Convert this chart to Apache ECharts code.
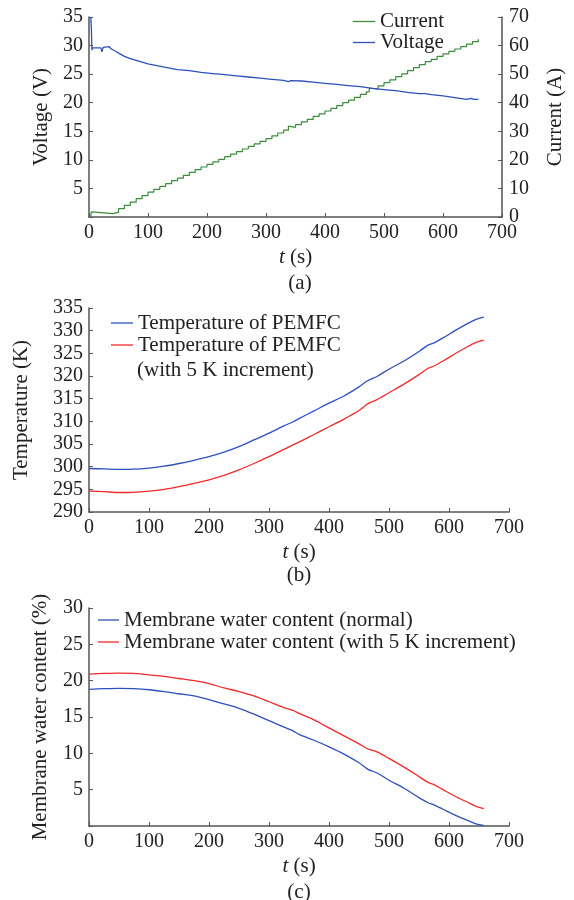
<!DOCTYPE html>
<html>
<head>
<meta charset="utf-8">
<script src="https://cdn.jsdelivr.net/npm/echarts@6/dist/echarts.min.js"></script>
<style>
    html, body { margin: 0; padding: 0; background: #fff; }
    #chart { width: 574px; height: 900px; }
</style>
</head>
<body>
<div id="chart"></div>
<script>
    // (a) voltage / current vs time
    var voltT = [3, 4, 5, 6, 20, 22, 24, 34, 38, 45, 52, 60, 70, 80, 90, 100, 115, 130, 150, 170, 190, 210, 230, 250, 270, 290, 310, 330, 338, 342, 360, 380, 400, 420, 440, 460, 480, 500, 520, 540, 560, 570, 580, 600, 620, 640, 648, 652, 660];
    var voltage = [35, 33, 29.2, 29.6, 29.6, 28.9, 29.7, 29.8, 29.4, 29.0, 28.6, 28.1, 27.7, 27.4, 27.1, 26.8, 26.5, 26.2, 25.8, 25.6, 25.3, 25.1, 24.9, 24.7, 24.5, 24.3, 24.1, 23.9, 23.7, 23.85, 23.8, 23.6, 23.4, 23.2, 23.0, 22.8, 22.5, 22.3, 22.1, 21.8, 21.6, 21.6, 21.4, 21.2, 20.9, 20.6, 20.75, 20.6, 20.6];
    var currT = [3, 4, 6, 35, 40, 50, 60, 70, 80, 90, 100, 110, 120, 130, 140, 150, 160, 170, 180, 190, 200, 210, 220, 230, 240, 250, 260, 270, 280, 290, 300, 310, 320, 330, 338, 340, 350, 360, 370, 380, 390, 400, 410, 420, 430, 440, 450, 460, 470, 475, 480, 490, 500, 510, 520, 530, 540, 550, 560, 570, 580, 590, 600, 610, 620, 630, 640, 650, 660];
    var current = [0.3, 1.8, 1.3, 1.2, 1.6, 2.9, 4.1, 5.2, 6.4, 7.5, 8.7, 9.7, 10.7, 11.7, 12.7, 13.6, 14.6, 15.6, 16.6, 17.5, 18.4, 19.3, 20.2, 21.1, 22.0, 22.9, 23.8, 24.7, 25.6, 26.5, 27.4, 28.4, 29.4, 30.4, 31.8, 31.4, 32.3, 33.3, 34.2, 35.2, 36.1, 37.1, 38.0, 39.0, 40.0, 40.9, 41.9, 42.9, 43.8, 45.0, 44.8, 45.9, 47.0, 48.0, 49.1, 50.1, 51.2, 52.3, 53.3, 54.4, 55.2, 56.2, 57.1, 58.0, 58.8, 59.6, 60.5, 61.4, 62.2];

    // (b) and (c) share the same time samples
    var simT = [0, 25, 50, 75, 100, 125, 150, 175, 200, 225, 250, 275, 300, 325, 340, 350, 375, 400, 425, 450, 465, 480, 500, 525, 550, 565, 575, 590, 610, 630, 645, 658];
    var tempNormal = [299.6, 299.5, 299.4, 299.45, 299.7, 300.1, 300.7, 301.4, 302.2, 303.2, 304.4, 305.9, 307.4, 309.0, 309.9, 310.6, 312.3, 314.0, 315.6, 317.6, 319.0, 319.9, 321.5, 323.3, 325.4, 326.8, 327.3, 328.4, 330.0, 331.5, 332.5, 333.0];
    var tempPlus5 = [294.6, 294.5, 294.3, 294.35, 294.6, 295.0, 295.6, 296.3, 297.1, 298.1, 299.3, 300.7, 302.2, 303.8, 304.8, 305.4, 307.1, 308.8, 310.5, 312.4, 313.9, 314.8, 316.3, 318.2, 320.3, 321.7, 322.2, 323.3, 324.9, 326.4, 327.4, 327.9];
    var waterNormal = [18.8, 18.9, 18.95, 18.9, 18.75, 18.5, 18.2, 17.9, 17.4, 16.8, 16.2, 15.4, 14.5, 13.6, 13.1, 12.6, 11.8, 10.9, 9.9, 8.7, 7.8, 7.3, 6.3, 5.2, 3.9, 3.2, 2.9, 2.3, 1.5, 0.8, 0.3, 0.1];
    var waterPlus5 = [20.9, 21.0, 21.05, 21.0, 20.8, 20.6, 20.3, 20.0, 19.6, 19.0, 18.5, 17.9, 17.1, 16.3, 15.9, 15.5, 14.6, 13.5, 12.4, 11.3, 10.6, 10.2, 9.3, 8.1, 6.8, 6.0, 5.7, 5.0, 4.1, 3.3, 2.7, 2.4];

    var xTicks = [0, 100, 200, 300, 400, 500, 600, 700];

    function pairs(xs, ys) {
        return xs.map(function (x, i) { return [x, ys[i]]; });
    }

    var FONT = 'Liberation Serif';
    var BLUE = '#2d50bd';
    var GREEN = '#3c8c3c';
    var RED = '#f02a2a';
    var AXIS = '#555';

    function xAxis(grid) {
        return {
            type: 'value', gridIndex: grid, min: 0, max: 700, interval: 100,
            name: '{it|t} (s)', nameLocation: 'middle', nameGap: 30,
            nameTextStyle: { fontFamily: FONT, fontSize: 21, color: '#222', rich: { it: { fontFamily: FONT, fontSize: 21, fontStyle: 'italic', color: '#222' } } },
            axisLine: { lineStyle: { color: AXIS, width: 1.5 } },
            axisTick: { inside: true, length: 4, lineStyle: { color: AXIS } },
            axisLabel: { margin: 6, fontFamily: FONT, fontSize: 20, color: '#222',
                formatter: function (v) { return xTicks.indexOf(v) >= 0 ? String(v) : ''; } },
            splitLine: { show: false }
        };
    }

    function yAxis(grid, opts) {
        var a = {
            type: 'value', gridIndex: grid,
            nameLocation: 'middle',
            nameTextStyle: { fontFamily: FONT, fontSize: 21, color: '#222' },
            axisLine: { show: true, lineStyle: { color: AXIS, width: 1.5 } },
            axisTick: { show: true, inside: true, length: 4, lineStyle: { color: AXIS } },
            axisLabel: { margin: 6, fontFamily: FONT, fontSize: 20, color: '#222' },
            splitLine: { show: false }
        };
        for (var k in opts) a[k] = opts[k];
        return a;
    }

    function hideZero(v) { return v === 0 ? '' : String(v); }

    // plain line sample in the legends
    var legendBase = { orient: 'vertical', padding: 0, itemGap: 0, icon: 'rect', itemWidth: 22, itemHeight: 1.3 };
    function legend(opts) {
        var l = {};
        for (var k in legendBase) l[k] = legendBase[k];
        for (var j in opts) l[j] = opts[j];
        return l;
    }

    var chart = echarts.init(document.getElementById('chart'));
    var option = {
        backgroundColor: '#fff',
        animation: false,
        title: [
            { text: '(a)', left: 300, top: 273, textAlign: 'center', padding: 0, textStyle: { fontFamily: FONT, fontSize: 21, fontWeight: 'normal', color: '#222' } },
            { text: '(b)', left: 299, top: 565, textAlign: 'center', padding: 0, textStyle: { fontFamily: FONT, fontSize: 21, fontWeight: 'normal', color: '#222' } },
            { text: '(c)', left: 299, top: 882, textAlign: 'center', padding: 0, textStyle: { fontFamily: FONT, fontSize: 21, fontWeight: 'normal', color: '#222' } }
        ],
        grid: [
            { left: 89, right: 63, top: 17, height: 200 },
            { left: 89, right: 65, top: 308, height: 204 },
            { left: 89, right: 65, top: 608, height: 218 }
        ],
        legend: [
            legend({ data: ['Current', 'Voltage'], left: 353, top: 11,
              textStyle: { fontFamily: FONT, fontSize: 21, color: '#222', lineHeight: 21 } }),
            legend({ data: ['Temperature of PEMFC', 'Temperature of PEMFC (with 5 K increment)'], left: 111, top: 312,
              formatter: function (n) { return 'Temperature of PEMFC'; },
              textStyle: { fontFamily: FONT, fontSize: 21, color: '#222', lineHeight: 22 } }),
            legend({ data: ['Membrane water content (normal)', 'Membrane water content (with 5 K increment)'], left: 98, top: 609, itemWidth: 21,
              textStyle: { fontFamily: FONT, fontSize: 21, color: '#222', lineHeight: 22 } })
        ],
        graphic: [
            { type: 'text', left: 137, top: 360, style: { text: '(with 5 K increment)', fontFamily: FONT, fontSize: 21, fill: '#222' } }
        ],
        xAxis: [xAxis(0), xAxis(1), xAxis(2)],
        yAxis: [
            yAxis(0, { min: 0, max: 35, interval: 5, name: 'Voltage (V)', nameGap: 37,
                axisLabel: { margin: 6, fontFamily: FONT, fontSize: 20, color: '#222', formatter: hideZero } }),
            yAxis(0, { min: 0, max: 70, interval: 10, position: 'right', name: 'Current (A)', nameGap: 43, nameRotate: 90,
                axisLabel: { margin: 7, fontFamily: FONT, fontSize: 20, color: '#222' } }),
            yAxis(1, { min: 290, max: 335, interval: 5, name: 'Temperature (K)', nameGap: 57 }),
            yAxis(2, { min: 0, max: 30, interval: 5, name: 'Membrane water content (%)', nameGap: 38,
                axisLabel: { margin: 6, fontFamily: FONT, fontSize: 20, color: '#222', formatter: hideZero } })
        ],
        series: [
            { name: 'Current', type: 'line', xAxisIndex: 0, yAxisIndex: 1, symbol: 'none', step: 'end',
              data: pairs(currT, current), lineStyle: { color: GREEN, width: 1.2 }, itemStyle: { color: GREEN } },
            { name: 'Voltage', type: 'line', xAxisIndex: 0, yAxisIndex: 0, symbol: 'none',
              data: pairs(voltT, voltage), lineStyle: { color: BLUE, width: 1.3 }, itemStyle: { color: BLUE } },
            { name: 'Temperature of PEMFC', type: 'line', xAxisIndex: 1, yAxisIndex: 2, symbol: 'none', smooth: 0.3,
              data: pairs(simT, tempNormal), lineStyle: { color: BLUE, width: 1.3 }, itemStyle: { color: BLUE } },
            { name: 'Temperature of PEMFC (with 5 K increment)', type: 'line', xAxisIndex: 1, yAxisIndex: 2, symbol: 'none', smooth: 0.3,
              data: pairs(simT, tempPlus5), lineStyle: { color: RED, width: 1.3 }, itemStyle: { color: RED } },
            { name: 'Membrane water content (normal)', type: 'line', xAxisIndex: 2, yAxisIndex: 3, symbol: 'none', smooth: 0.3,
              data: pairs(simT, waterNormal), lineStyle: { color: BLUE, width: 1.3 }, itemStyle: { color: BLUE } },
            { name: 'Membrane water content (with 5 K increment)', type: 'line', xAxisIndex: 2, yAxisIndex: 3, symbol: 'none', smooth: 0.3,
              data: pairs(simT, waterPlus5), lineStyle: { color: RED, width: 1.3 }, itemStyle: { color: RED } }
        ]
    };
    chart.setOption(option);
</script>
</body>
</html>
